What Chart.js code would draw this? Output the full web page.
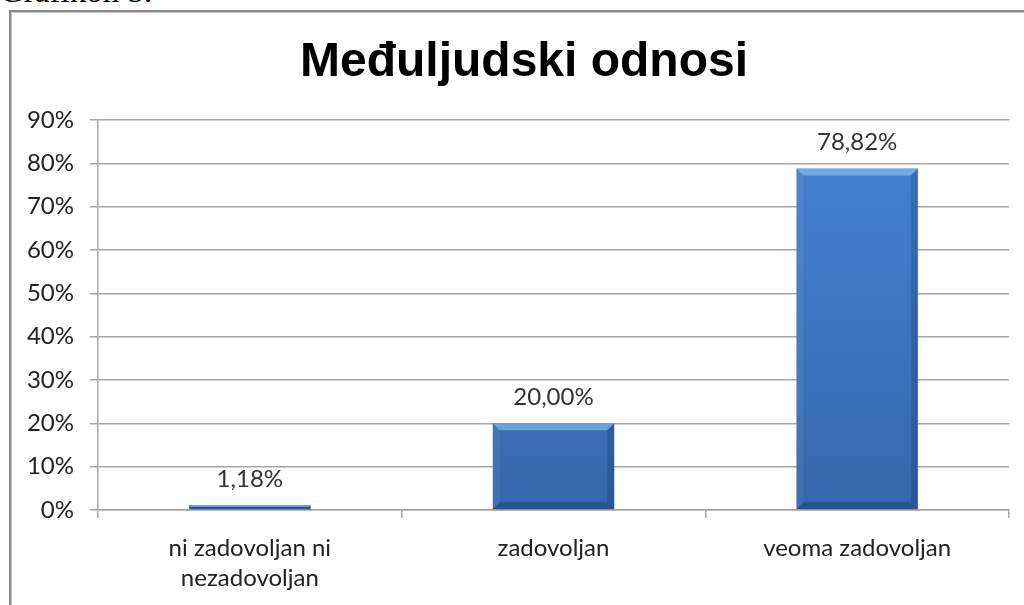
<!DOCTYPE html>
<html>
<head>
<meta charset="utf-8">
<script src="https://cdn.jsdelivr.net/npm/chart.js@4"></script>
<style>
  html, body { margin: 0; padding: 0; background: #fff; overflow: hidden; }
  #caption {
    position: absolute; left: 0; top: -25px;
    font: 33px/32px "Liberation Serif", serif; color: #000; white-space: nowrap;
  }
  #frame {
    position: absolute; left: 9px; top: 10px; width: 1060px; height: 640px;
    border-left: 2px solid #8a8a8a; border-top: 2px solid #8a8a8a;
    box-shadow: inset 1px 1px 0 #c8c8c8;
  }
  #wrap { position: absolute; left: 0; top: 0; width: 1040px; height: 605px; }
</style>
</head>
<body>
<div id="caption">Grafikon 5.</div>
<div id="frame"></div>
<div id="wrap"><canvas id="chart"></canvas></div>
<script>
const categories = [['ni zadovoljan ni', 'nezadovoljan'], 'zadovoljan', 'veoma zadovoljan'];
const values = [1.18, 20.00, 78.82];
const titleText = 'Međuljudski odnosi';
const yMax = 90;
const yStep = 10;

const labelFont = { family: 'Lato', size: 24 };
const fmt = (v) => v.toFixed(2).replace('.', ',') + '%';

// chart title, centred on the whole chart box (which runs past the window)
const titlePlugin = {
  id: 'boxTitle',
  afterDraw(chart) {
    const c = chart.ctx;
    c.save();
    c.font = 'bold 48px "Liberation Sans"';
    c.fillStyle = '#000';
    c.textAlign = 'center';
    c.textBaseline = 'alphabetic';
    c.fillText(titleText, 524, 76);
    c.restore();
  }
};

// bevel + value labels on top of the bars
const bevelPlugin = {
  id: 'bevel',
  afterDatasetsDraw(chart) {
    const c = chart.ctx;
    const meta = chart.getDatasetMeta(0);
    meta.data.forEach((bar, i) => {
      const { x, y, base, width } = bar.getProps(['x', 'y', 'base', 'width'], true);
      const l = x - width / 2, r = x + width / 2, t = y, b = base;
      const h = b - t;
      const s = Math.min(7, h / 2);
      c.save();
      // top
      c.fillStyle = 'rgba(160,200,250,0.55)';
      c.beginPath(); c.moveTo(l, t); c.lineTo(r, t); c.lineTo(r - s, t + s); c.lineTo(l + s, t + s); c.fill();
      // left
      c.fillStyle = 'rgba(255,255,255,0.06)';
      c.beginPath(); c.moveTo(l, t); c.lineTo(l + s, t + s); c.lineTo(l + s, b - s); c.lineTo(l, b); c.fill();
      // right
      c.fillStyle = 'rgba(0,20,60,0.18)';
      c.beginPath(); c.moveTo(r, t); c.lineTo(r, b); c.lineTo(r - s, b - s); c.lineTo(r - s, t + s); c.fill();
      // bottom
      c.fillStyle = 'rgba(0,20,60,0.25)';
      c.beginPath(); c.moveTo(l, b); c.lineTo(r, b); c.lineTo(r - s, b - s); c.lineTo(l + s, b - s); c.fill();
      c.restore();

      c.save();
      c.font = labelFont.size + 'px ' + labelFont.family;
      c.fillStyle = '#333';
      c.textAlign = 'center';
      c.textBaseline = 'middle';
      c.fillText(fmt(values[i]), x, t - 26);
      c.restore();
    });
  }
};

const ctx = document.getElementById('chart');
new Chart(ctx, {
  type: 'bar',
  data: {
    labels: categories,
    datasets: [{
      data: values,
      backgroundColor: (context) => {
        const area = context.chart.chartArea;
        if (!area) return '#4080cc';
        const g = context.chart.ctx.createLinearGradient(0, area.top, 0, area.bottom);
        g.addColorStop(0, '#4784d3');
        g.addColorStop(1, '#3467ad');
        return g;
      },
      borderWidth: 0,
      categoryPercentage: 1,
      barPercentage: 0.4
    }]
  },
  options: {
    responsive: true,
    maintainAspectRatio: false,
    animation: false,
    layout: { padding: { left: 0, right: 31, top: 120, bottom: 0 } },
    plugins: {
      legend: { display: false },
      tooltip: { enabled: false },
      title: { display: false }
    },
    scales: {
      x: {
        afterFit: (scale) => { scale.height = 95; },
        grid: { display: true, drawOnChartArea: false, drawTicks: true, tickLength: 8, color: '#a6a6a6', lineWidth: 1.5, offset: true },
        border: { display: true, color: '#a6a6a6', width: 1.5 },
        ticks: { color: '#222', font: { ...labelFont, lineHeight: 30 / 24 }, padding: 15, maxRotation: 0, autoSkip: false }
      },
      y: {
        min: 0,
        max: yMax,
        afterFit: (scale) => { scale.width = 98; },
        grid: { color: '#a6a6a6', lineWidth: 1.5, drawTicks: true, tickLength: 8 },
        border: { display: true, color: '#a6a6a6', width: 1.5 },
        ticks: { stepSize: yStep, color: '#222', font: labelFont, padding: 16, callback: (v) => v + '%' }
      }
    }
  },
  plugins: [bevelPlugin, titlePlugin]
});
</script>
</body>
</html>
